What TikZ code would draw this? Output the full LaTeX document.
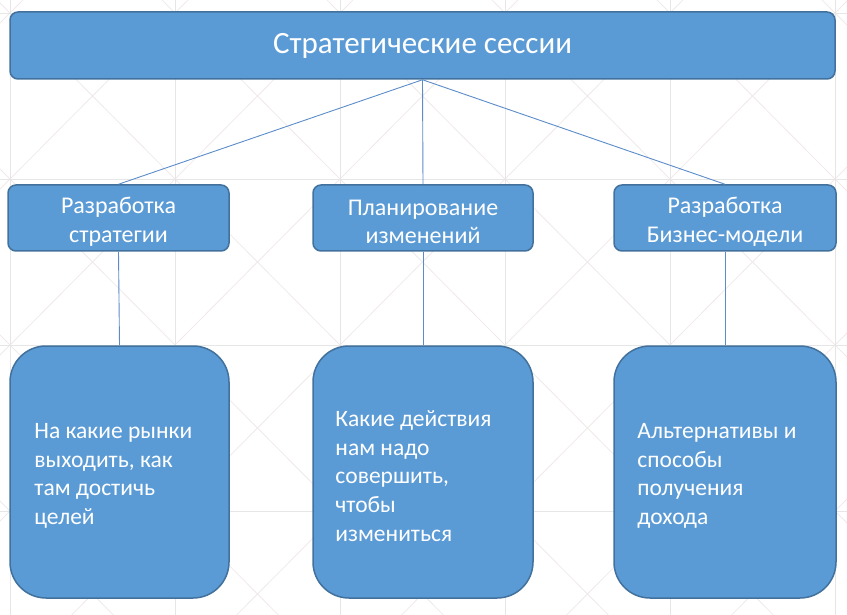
\documentclass[tikz,border=0pt]{standalone}
\usepackage{fontspec}
\setmainfont{Carlito}
\definecolor{boxfill}{HTML}{5B9BD5}
\definecolor{boxline}{HTML}{41719C}
\definecolor{conn}{HTML}{5B8CC8}
\definecolor{gridc}{HTML}{E6E6E6}
\definecolor{gridd}{HTML}{F0E9E9}
\begin{document}
\begin{tikzpicture}[x=1pt,y=-1pt,
  box/.style={draw=boxline, fill=boxfill, line width=1.5pt, text=white, inner sep=0pt, align=center},
  topbox/.style={box, rounded corners=8pt, minimum width=825pt, minimum height=67pt, font=\fontsize{31}{36}\selectfont},
  midbox/.style={box, rounded corners=8pt, minimum width=220pt, minimum height=66pt},
  midtext/.style={text=white, inner sep=0pt, align=center, yshift=-4pt, font=\fontsize{24}{28.5}\selectfont},
  lowbox/.style={box, rounded corners=36pt, minimum width=220pt, minimum height=252pt},
  lowtext/.style={text=white, inner sep=0pt, align=left, yshift=-4pt, font=\fontsize{23.5}{28.6}\selectfont},
  conline/.style={draw=conn, line width=0.9pt}]
\useasboundingbox (0,0) rectangle (847,615);
\begin{scope}
\clip (0,0) rectangle (847,615);
\foreach \i in {-1,...,5} {
  \foreach \j in {-1,...,3} {
    \draw[gridd, line width=0.8pt] (10+165*\i,13+166*\j) -- (175+165*\i,179+166*\j);
    \draw[gridd, line width=0.8pt] (175+165*\i,13+166*\j) -- (10+165*\i,179+166*\j);
  }
}
\foreach \i in {-1,...,6} \draw[gridc, line width=0.8pt] (10+165*\i,0) -- (10+165*\i,615);
\foreach \j in {-1,...,4} \draw[gridc, line width=0.8pt] (0,13+166*\j) -- (847,13+166*\j);
\end{scope}

\node[topbox] (top) at (422.5,45.5) {Стратегические сессии};

\node[midbox, minimum width=221pt] (m1) at (118.5,218) {};
\node[midtext] (m1t) at (m1.center) {Разработка\\стратегии};
\node[midbox] (m2) at (423,218) {};
\node[midtext] (m2t) at (m2.center) {Планирование\\изменений};
\node[midbox, minimum width=222pt] (m3) at (725,218) {};
\node[midtext] (m3t) at (m3.center) {Разработка\\Бизнес-модели};

\node[lowbox, minimum width=219pt] (b1) at (119.5,472) {};
\node[lowtext, anchor=west] (b1t) at ([xshift=25pt]b1.west) {На какие рынки\\выходить, как\\там достичь\\целей};
\node[lowbox] (b2) at (423,472) {};
\node[lowtext, anchor=west] (b2t) at ([xshift=23pt]b2.west) {Какие действия\\нам надо\\совершить,\\чтобы\\измениться};
\node[lowbox, minimum width=222pt] (b3) at (725,472) {};
\node[lowtext, anchor=west] (b3t) at ([xshift=24pt]b3.west) {Альтернативы и\\способы\\получения\\дохода};

\draw[conline] (top.south) -- (m1.north);
\draw[conline] (top.south) -- (m2.north);
\draw[conline] (top.south) -- (m3.north);
\draw[conline] (m1.south) -- (b1.north);
\draw[conline] (m2.south) -- (b2.north);
\draw[conline] (m3.south) -- (b3.north);
\end{tikzpicture}
\end{document}
